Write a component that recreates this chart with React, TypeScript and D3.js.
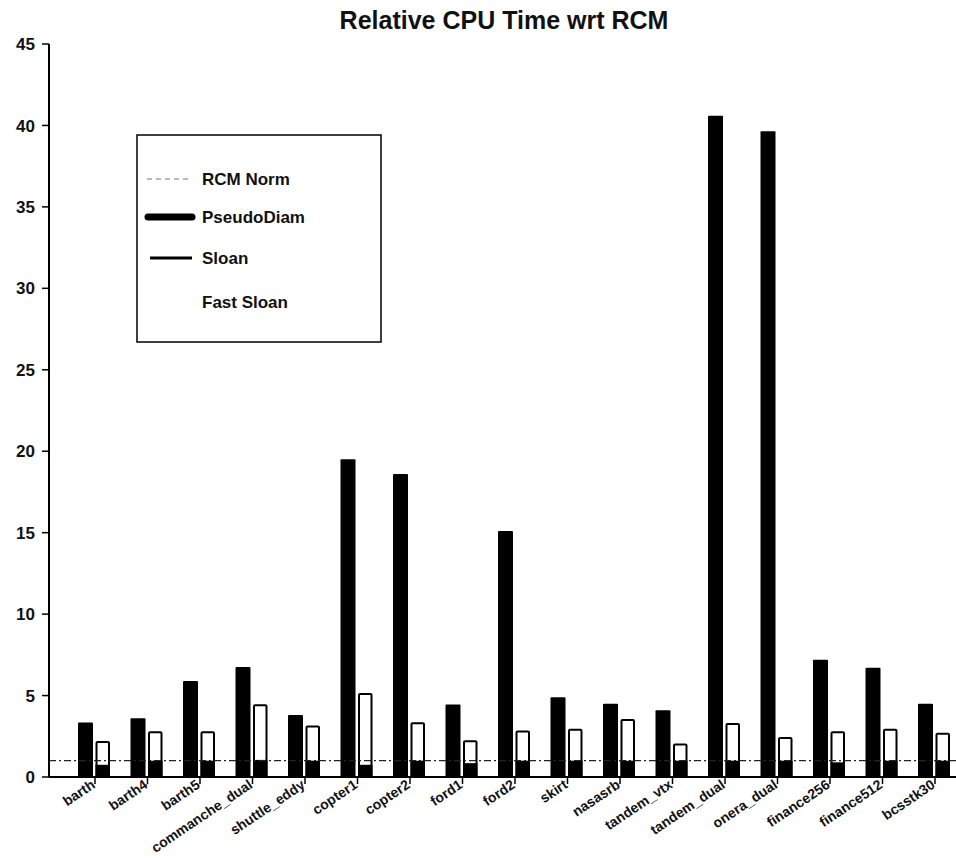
import React from "react";
import * as d3 from "d3";

// Matrices benchmarked, and CPU time of each ordering relative to RCM
const categories = [
  "barth", "barth4", "barth5", "commanche_dual", "shuttle_eddy", "copter1",
  "copter2", "ford1", "ford2", "skirt", "nasasrb", "tandem_vtx",
  "tandem_dual", "onera_dual", "finance256", "finance512", "bcsstk30",
];
const pseudoDiam = [3.35, 3.6, 5.9, 6.75, 3.8, 19.5, 18.6, 4.45, 15.1, 4.9, 4.5, 4.1, 40.6, 39.65, 7.2, 6.7, 4.5];
const sloan = [2.15, 2.75, 2.75, 4.4, 3.1, 5.1, 3.3, 2.2, 2.8, 2.9, 3.5, 2.0, 3.25, 2.4, 2.75, 2.9, 2.65];
const fastSloan = [0.75, 1.0, 1.0, 1.05, 1.0, 0.75, 1.0, 0.85, 1.0, 1.0, 1.0, 1.0, 1.0, 1.0, 0.9, 1.0, 1.0];
const rcmNorm = 1;
const yTicks = [0, 5, 10, 15, 20, 25, 30, 35, 40, 45];
const legendItems = ["RCM Norm", "PseudoDiam", "Sloan", "Fast Sloan"];

const W = 956;
const H = 858;
const FONT = "'Liberation Sans', Arial, Helvetica, sans-serif";

export default function App() {
  const axisX = 49;
  const y = d3.scaleLinear().domain([0, 45]).range([777, 44]);
  const x = d3.scalePoint<string>().domain(categories).range([95, 935]);

  const y0 = y(0);

  return (
    <svg
      width={W}
      height={H}
      viewBox={`0 0 ${W} ${H}`}
      style={{ position: "absolute", left: 0, top: 0, background: "#fff" }}
      fontFamily={FONT}
    >
      <rect x={0} y={0} width={W} height={H} fill="#fff" />

      {/* title */}
      <text x={504} y={29} textAnchor="middle" fontSize={25} fontWeight="bold" fill="#111">
        Relative CPU Time wrt RCM
      </text>

      {/* bars */}
      {categories.map((c, i) => {
        const cx = x(c) as number;
        return (
          <g key={c}>
            <rect x={cx - 17} y={y(pseudoDiam[i])} width={15} height={y0 - y(pseudoDiam[i])} fill="#000" rx={1} />
            <rect
              x={cx + 1.5}
              y={y(sloan[i])}
              width={12.5}
              height={y0 - y(sloan[i])}
              fill="#fff"
              stroke="#000"
              strokeWidth={2}
              rx={1}
            />
            <rect x={cx + 0.5} y={y(fastSloan[i])} width={14.5} height={y0 - y(fastSloan[i])} fill="#000" />
          </g>
        );
      })}

      {/* RCM norm reference line */}
      <line
        x1={axisX}
        x2={W}
        y1={y(rcmNorm)}
        y2={y(rcmNorm)}
        stroke="#222"
        strokeWidth={1.3}
        strokeDasharray="7 3 2 3"
      />

      {/* y axis */}
      <line x1={axisX} x2={axisX} y1={y(45)} y2={y0} stroke="#000" strokeWidth={2} />
      {yTicks.map((t) => (
        <g key={t}>
          <line x1={axisX - 7} x2={axisX} y1={y(t)} y2={y(t)} stroke="#000" strokeWidth={1.5} />
          <text
            x={35}
            y={y(t)}
            dy="0.36em"
            textAnchor="end"
            fontSize={17}
            fontWeight="bold"
            fill="#111"
          >
            {t}
          </text>
        </g>
      ))}

      {/* x axis */}
      <line x1={axisX} x2={W} y1={y0} y2={y0} stroke="#000" strokeWidth={2} />
      {categories.map((c) => {
        const cx = x(c) as number;
        return (
          <g key={`t-${c}`}>
            <line x1={cx} x2={cx} y1={y0} y2={y0 + 7} stroke="#000" strokeWidth={1.5} />
            <text
              transform={`translate(${cx + 1},${y0 + 10}) rotate(-34)`}
              textAnchor="end"
              fontSize={14}
              fontWeight="bold"
              fill="#111"
            >
              {c}
            </text>
          </g>
        );
      })}

      {/* legend */}
      <g>
        <rect x={137} y={135} width={244} height={207} fill="#fff" stroke="#000" strokeWidth={1.5} />
        {legendItems.map((name, i) => {
          const ly = [179, 217, 258, 302][i];
          return (
            <g key={name}>
              {i === 0 && (
                <line x1={147} x2={192} y1={ly} y2={ly} stroke="#777" strokeWidth={1} strokeDasharray="5 4" />
              )}
              {i === 1 && (
                <line x1={148} x2={192} y1={ly} y2={ly} stroke="#000" strokeWidth={7} strokeLinecap="round" />
              )}
              {i === 2 && (
                <line x1={150} x2={192} y1={ly} y2={ly} stroke="#000" strokeWidth={3} />
              )}
              <text x={202} y={ly} dy="0.36em" fontSize={17} fontWeight="bold" fill="#111">
                {name}
              </text>
            </g>
          );
        })}
      </g>
    </svg>
  );
}
